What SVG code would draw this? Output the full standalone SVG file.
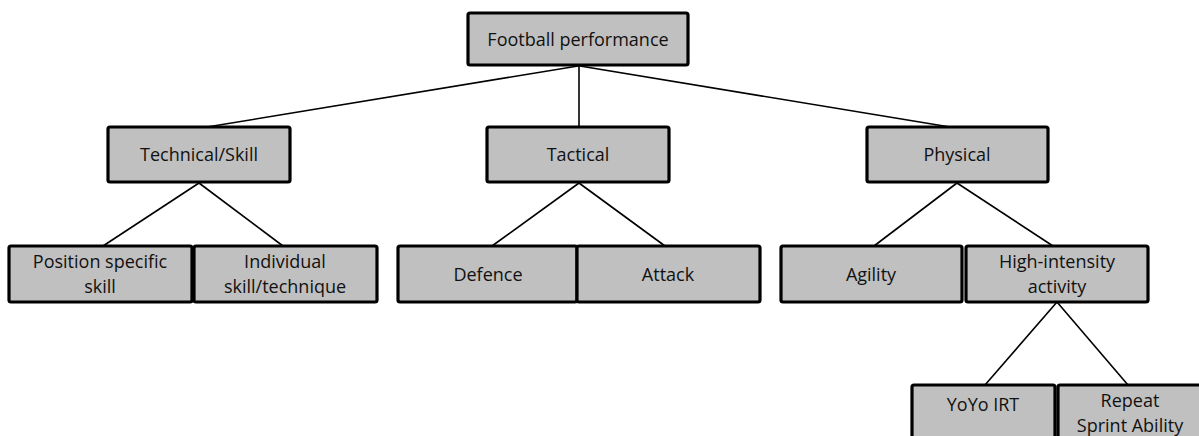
<svg xmlns="http://www.w3.org/2000/svg" width="1199" height="436" viewBox="0 0 1199 436">
<style>
.box{fill:#c0c0c0;stroke:#000;stroke-width:3.2}
.lbl{font-family:"Open Sans","Liberation Sans",sans-serif;font-size:18px;fill:#111;text-anchor:middle}
.conn line{stroke:#000;stroke-width:1.6}
</style>
<rect width="1199" height="436" fill="#fff"/>
<g class="conn">
<line x1="578" y1="66" x2="207" y2="127"/>
<line x1="579" y1="66" x2="579" y2="127"/>
<line x1="580" y1="66" x2="950" y2="127"/>
<line x1="199" y1="183" x2="103" y2="246"/>
<line x1="199" y1="183" x2="283" y2="246"/>
<line x1="579" y1="183" x2="492" y2="246"/>
<line x1="579" y1="183" x2="665" y2="246"/>
<line x1="957" y1="183" x2="874" y2="246"/>
<line x1="957" y1="183" x2="1053" y2="246"/>
<line x1="1057" y1="302" x2="985" y2="385"/>
<line x1="1057" y1="302" x2="1128" y2="385"/>
</g>
<g id="football"><rect class="box" x="468" y="13" width="220" height="52" rx="2"/><text class="lbl" x="578" y="46">Football performance</text></g>
<g id="technical"><rect class="box" x="108" y="127" width="182" height="55" rx="2"/><text class="lbl" x="199" y="161">Technical/Skill</text></g>
<g id="tactical"><rect class="box" x="487" y="127" width="182" height="55" rx="2"/><text class="lbl" x="578" y="161">Tactical</text></g>
<g id="physical"><rect class="box" x="867" y="127" width="181" height="55" rx="2"/><text class="lbl" x="957" y="161">Physical</text></g>
<g id="position"><rect class="box" x="9" y="246" width="183" height="56" rx="2"/><text class="lbl" x="100" y="268">Position specific</text><text class="lbl" x="100" y="293">skill</text></g>
<g id="individual"><rect class="box" x="194" y="246" width="183" height="56" rx="2"/><text class="lbl" x="285" y="268">Individual</text><text class="lbl" x="285" y="293">skill/technique</text></g>
<g id="defence"><rect class="box" x="398" y="246" width="179" height="56" rx="2"/><text class="lbl" x="488" y="281">Defence</text></g>
<g id="attack"><rect class="box" x="577" y="246" width="183" height="56" rx="2"/><text class="lbl" x="668" y="281">Attack</text></g>
<g id="agility"><rect class="box" x="781" y="246" width="181" height="56" rx="2"/><text class="lbl" x="871" y="281">Agility</text></g>
<g id="highintensity"><rect class="box" x="966" y="246" width="182" height="56" rx="2"/><text class="lbl" x="1057" y="268">High-intensity</text><text class="lbl" x="1057" y="293">activity</text></g>
<g id="yoyo"><rect class="box" x="912" y="385" width="143" height="60" rx="2"/><text class="lbl" x="983" y="411">YoYo IRT</text></g>
<g id="repeat"><rect class="box" x="1058" y="385" width="144" height="60" rx="2"/><text class="lbl" x="1130" y="407">Repeat</text><text class="lbl" x="1130" y="432">Sprint Ability</text></g>
</svg>
